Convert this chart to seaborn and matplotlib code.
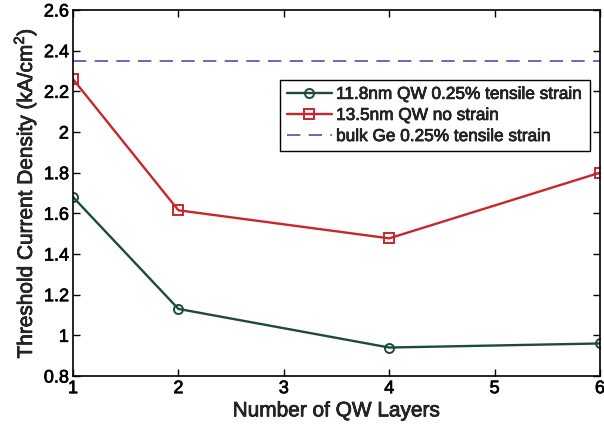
import matplotlib
matplotlib.use("Agg")
import matplotlib.pyplot as plt
import matplotlib.patheffects as pe
import seaborn as sns
import pandas as pd

# Number of quantum-well layers
layers = [1, 2, 4, 6]
# Threshold current density (kA/cm^2)
qw_strained = [1.68, 1.13, 0.94, 0.96]
qw_unstrained = [2.26, 1.615, 1.477, 1.80]
bulk_ge = 2.35

labels = ["11.8nm QW 0.25% tensile strain", "13.5nm QW no strain", "bulk Ge 0.25% tensile strain"]

sns.set_theme(style="white")
plt.rcParams["font.family"] = ["Liberation Sans", "DejaVu Sans"]
plt.rcParams["mathtext.fontset"] = "custom"
plt.rcParams["mathtext.rm"] = "Liberation Sans"

df = pd.DataFrame({
    "layers": layers * 2,
    "J": qw_strained + qw_unstrained,
    "series": [labels[0]] * len(layers) + [labels[1]] * len(layers),
})

fig = plt.figure(figsize=(6.04, 4.26), dpi=100)
ax = fig.add_axes([73 / 604, 50 / 426, 527 / 604, 366 / 426])

green = "#1d4a3c"
red = "#c8262a"
blue = "#4a4fb0"

sns.lineplot(data=df[df.series == labels[0]], x="layers", y="J", ax=ax, color=green,
             marker="o", markersize=6.5, markerfacecolor="none", markeredgecolor=green,
             markeredgewidth=1.4, linewidth=1.7, label=labels[0])
sns.lineplot(data=df[df.series == labels[1]], x="layers", y="J", ax=ax, color=red,
             marker="s", markersize=6.5, markerfacecolor="none", markeredgecolor=red,
             markeredgewidth=1.4, linewidth=1.7, label=labels[1])
ax.axhline(bulk_ge, color=blue, linestyle=(0, (8, 5)), linewidth=1.2, label=labels[2])

ax.set_xlim(1, 6)
ax.set_ylim(0.8, 2.6)
ax.set_xticks([1, 2, 3, 4, 5, 6])
ax.set_yticks([0.8, 1, 1.2, 1.4, 1.6, 1.8, 2, 2.2, 2.4, 2.6])
ax.set_yticklabels(["0.8", "1", "1.2", "1.4", "1.6", "1.8", "2", "2.2", "2.4", "2.6"])
ax.tick_params(direction="in", length=5, width=1, colors="black", labelsize=13,
               top=True, right=True, bottom=True, left=True, pad=3)
for s in ax.spines.values():
    s.set_color("black")
    s.set_linewidth(1.2)

ax.set_xlabel("Number of QW Layers", fontsize=15, labelpad=3)
ax.set_ylabel("Threshold Current Density (kA/cm$^2$)", fontsize=15, labelpad=4)

leg = ax.legend(loc="upper left", bbox_to_anchor=(0.393, 0.809), fontsize=12.4,
                frameon=True, fancybox=False, edgecolor="black", framealpha=1,
                handlelength=2.6, handletextpad=0.25, borderpad=0.4, labelspacing=0.35,
                borderaxespad=0)
leg.get_frame().set_linewidth(1.0)

# slightly heavier strokes on all text
heavy = [pe.withStroke(linewidth=0.5, foreground="black")]
texts = [ax.xaxis.label, ax.yaxis.label] + ax.get_xticklabels() + ax.get_yticklabels() + leg.get_texts()
for t in texts:
    t.set_path_effects(heavy)

fig.savefig("out.png", dpi=100)
